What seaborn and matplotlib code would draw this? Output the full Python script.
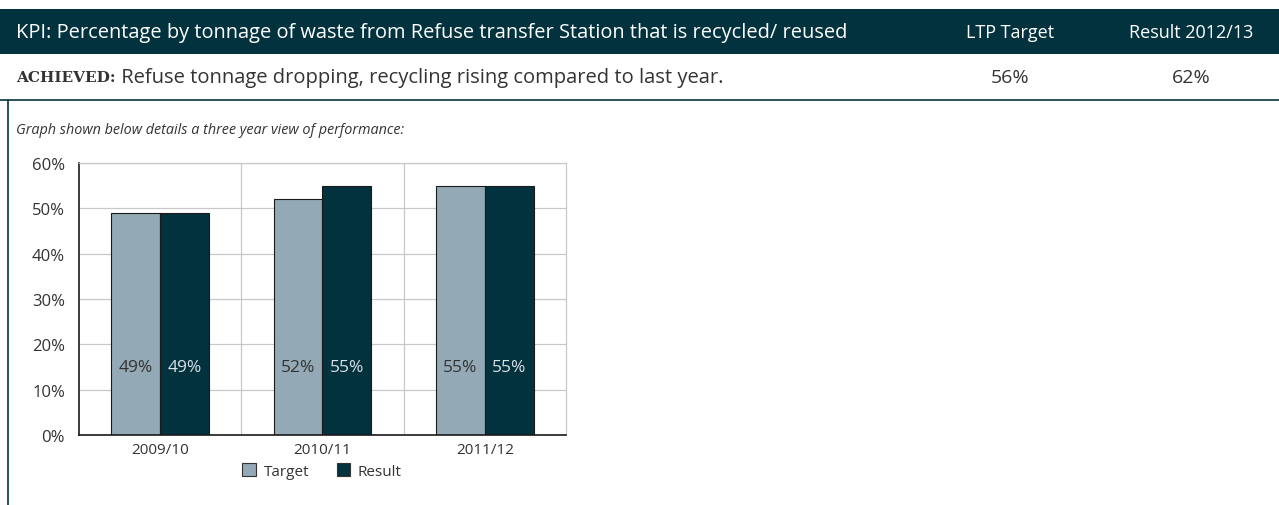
import matplotlib
matplotlib.use("Agg")
import matplotlib.pyplot as plt
from matplotlib.patches import Rectangle, Patch
from matplotlib.lines import Line2D
import seaborn as sns
import pandas as pd

# ---- data ----
years = ["2009/10", "2010/11", "2011/12"]
target = [49, 52, 55]
result = [49, 55, 55]
series = ["Target", "Result"]
y_ticks = [0, 10, 20, 30, 40, 50, 60]
header_title = "KPI: Percentage by tonnage of waste from Refuse transfer Station that is recycled/ reused"
col_headers = ["LTP Target", "Result 2012/13"]
status_word = "ACHIEVED:"
status_text = " Refuse tonnage dropping, recycling rising compared to last year."
kpi_values = ["56%", "62%"]
intro = "Graph shown below details a three year view of performance:"

df = pd.DataFrame({
    "year": years * 2,
    "series": ["Target"] * len(years) + ["Result"] * len(years),
    "value": target + result,
})

W, H = 1279, 506
DARK = "#03323f"
LIGHT = "#93a9b5"
TXT = "#333333"

sns.set_theme(style="white")
plt.rcParams["font.family"] = ["Open Sans", "DejaVu Sans"]

fig = plt.figure(figsize=(W / 100, H / 100), dpi=100)

def fx(x):
    return x / W

def fy(y):
    return 1 - y / H

# header bar
fig.add_artist(Rectangle((fx(0), fy(55)), fx(1279), 45 / H, transform=fig.transFigure,
                         facecolor=DARK, edgecolor="none"))
fig.text(fx(16), fy(33), header_title, color="white", fontsize=14.45, va="center", ha="left")
fig.text(fx(1010), fy(33), col_headers[0], color="white", fontsize=13, va="center", ha="center")
fig.text(fx(1191), fy(33), col_headers[1], color="white", fontsize=13, va="center", ha="center")

# row 2
t = fig.text(fx(16), fy(78), status_word, color=TXT, fontsize=11, va="center", ha="left",
             family="DejaVu Serif", fontweight="bold")
fig.canvas.draw()
bb = t.get_window_extent()
fig.text(bb.x1 / W, fy(78), status_text, color=TXT, fontsize=14.5, va="center", ha="left")
fig.text(fx(1010), fy(78), kpi_values[0], color=TXT, fontsize=14, va="center", ha="center")
fig.text(fx(1191), fy(78), kpi_values[1], color=TXT, fontsize=14, va="center", ha="center")
fig.add_artist(Line2D([0, 1], [fy(101), fy(101)], transform=fig.transFigure, color=DARK, lw=1.2))
fig.add_artist(Line2D([fx(8), fx(8)], [fy(101), 0], transform=fig.transFigure, color=DARK, lw=1.2))

fig.text(fx(16), fy(131), intro, color=TXT, fontsize=10.4, style="italic", va="center", ha="left")

# ---- chart ----
ax = fig.add_axes([fx(79), fy(436), fx(566 - 79), (436 - 164) / H])
sns.barplot(data=df, x="year", y="value", hue="series", hue_order=series,
            palette=[LIGHT, DARK], width=0.6, edgecolor="#1a1a1a", linewidth=0.8,
            ax=ax, legend=False, saturation=1)
ax.set_ylim(0, 60)
ax.set_xlim(-0.5, len(years) - 0.5)
ax.set_yticks(y_ticks)
ax.set_yticklabels([f"{v}%" for v in y_ticks])
ax.set_xlabel("")
ax.set_ylabel("")
ax.grid(axis="y", color="#c8c8c8", lw=0.9)
ax.set_axisbelow(True)
for xv in [0.5, 1.5]:
    ax.axvline(xv, color="#c8c8c8", lw=0.9, zorder=0)
ax.tick_params(axis="y", length=0, labelsize=12, colors=TXT, pad=10)
ax.tick_params(axis="x", length=0, labelsize=11, colors=TXT, pad=5)
for side in ["top", "right"]:
    ax.spines[side].set_color("#c8c8c8")
    ax.spines[side].set_linewidth(0.9)
for side in ["left", "bottom"]:
    ax.spines[side].set_color("#1a1a1a")
    ax.spines[side].set_linewidth(1.2)

# value labels inside bars
for cont, col in zip(ax.containers, [TXT, "#d9e2e6"]):
    for rect, v in zip(cont, cont.datavalues):
        ax.text(rect.get_x() + rect.get_width() / 2, 15, f"{v:.0f}%", ha="center",
                va="center", color=col, fontsize=12.5)

handles = [Patch(facecolor=LIGHT, edgecolor="#333333", lw=0.8),
           Patch(facecolor=DARK, edgecolor="#333333", lw=0.8)]
fig.legend(handles, series, loc="center", bbox_to_anchor=(fx(322), fy(472)), ncol=2,
           frameon=False, fontsize=11, handlelength=0.9, handleheight=0.9,
           handletextpad=0.5, columnspacing=1.8, labelcolor=TXT)

fig.savefig("out.png", dpi=100)
